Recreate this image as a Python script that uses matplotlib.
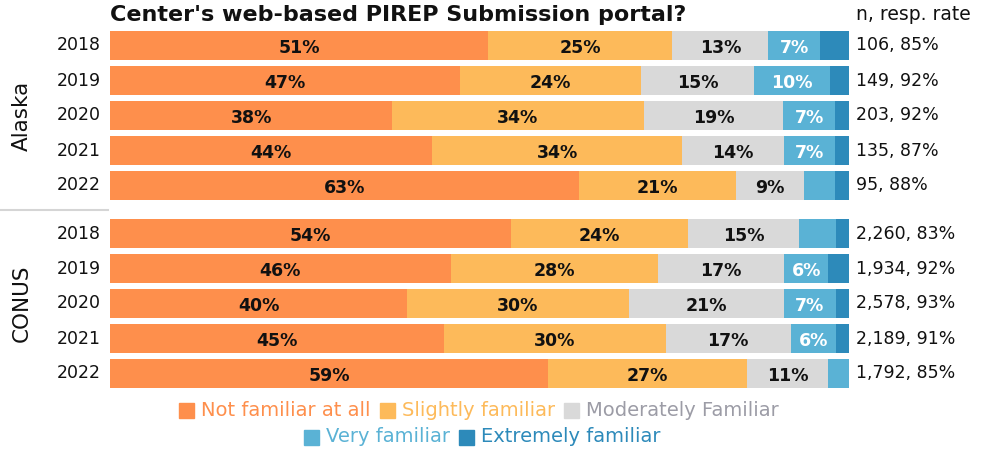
import numpy as np
import matplotlib
matplotlib.use("Agg")
import matplotlib.pyplot as plt

plt.rcParams['font.family'] = ['DejaVu Sans']

title = "Center's web-based PIREP Submission portal?"
groups = ["Alaska", "CONUS"]
years = ["2018", "2019", "2020", "2021", "2022"]
categories = ["Not familiar at all", "Slightly familiar", "Moderately Familiar",
              "Very familiar", "Extremely familiar"]
colors = ["#FE8F4C", "#FDBA5A", "#D9D9D9", "#5AB2D5", "#2D8ABA"]
legend_text_colors = ["#FE8F4C", "#FDBA5A", "#9C9CA6", "#5AB2D5", "#2D8ABA"]

# percent per row, columns follow categories
alaska = np.array([
    [51.2, 24.9, 13.0, 7.0, 3.9],
    [47.4, 24.4, 15.4, 10.2, 2.6],
    [38.2, 34.0, 18.9, 7.0, 1.9],
    [43.6, 33.8, 13.8, 6.9, 1.9],
    [63.4, 21.3, 9.2, 4.2, 1.9],
])
conus = np.array([
    [54.2, 24.0, 15.0, 5.0, 1.8],
    [46.1, 28.0, 17.1, 6.0, 2.8],
    [40.2, 30.0, 21.0, 7.0, 1.8],
    [45.2, 30.0, 16.9, 6.1, 1.8],
    [59.3, 26.9, 11.0, 2.8, 0.0],
])
alaska_n = ["106, 85%", "149, 92%", "203, 92%", "135, 87%", "95, 88%"]
conus_n = ["2,260, 83%", "1,934, 92%", "2,578, 93%", "2,189, 91%", "1,792, 85%"]

W, H = 981, 449
fig = plt.figure(figsize=(W / 100, H / 100), dpi=100)

# pixel layout of the bar block
x0, x1 = 110, 849
row_px = 35
gap = 13 / row_px
top_px = 45.5 - row_px / 2
ypos = np.concatenate([np.arange(5), np.arange(5) + 5 + gap])
ylim_bottom = ypos[-1] + 0.5
bot_px = top_px + (ylim_bottom + 0.5) * row_px

ax = fig.add_axes([x0 / W, 1 - bot_px / H, (x1 - x0) / W, (bot_px - top_px) / H])
ax.set_xlim(0, 100)
ax.set_ylim(ylim_bottom, -0.5)
ax.axis("off")

data = np.vstack([alaska, conus])
n_labels = alaska_n + conus_n
left = np.zeros(len(data))
for j, cat in enumerate(categories):
    vals = data[:, j]
    ax.barh(ypos, vals, left=left, height=29 / row_px, color=colors[j], linewidth=0)
    for y, l, v in zip(ypos, left, vals):
        if j < 4 and v >= 5.5:
            ax.text(l + v / 2, y + 0.06, f"{round(v)}%", ha="center", va="center",
                    fontsize=12.5, fontweight="bold",
                    color="white" if j == 3 else "#111111")
    left += vals

def fy(y):
    # data y -> figure fraction
    return 1 - (top_px + (y + 0.5) * row_px) / H

for i, y in enumerate(ypos):
    fig.text(101 / W, fy(y), years[i % 5], ha="right", va="center",
             fontsize=12.5, color="#111111")
    fig.text(856 / W, fy(y), n_labels[i], ha="left", va="center",
             fontsize=12.5, color="#111111")

fig.text(22 / W, fy(ypos[:5].mean()), groups[0], rotation=90, ha="center",
         va="center", fontsize=15.5, color="#111111")
fig.text(22 / W, fy(ypos[5:].mean()), groups[1], rotation=90, ha="center",
         va="center", fontsize=15.5, color="#111111")

# divider between the two groups
fig.add_artist(plt.Line2D([0, 108 / W], [1 - 210 / H, 1 - 210 / H],
                          color="#D5D5D5", linewidth=1.5))

fig.text(x0 / W, 1 - 21 / H, title, ha="left", va="baseline",
         fontsize=16, fontweight="bold", color="#111111")
fig.text(856 / W, 1 - 20 / H, "n, resp. rate", ha="left", va="baseline",
         fontsize=13.5, color="#111111")

# legend, two centred rows of coloured squares and coloured text
rows = [[0, 1, 2], [3, 4]]
row_y = [410, 437]
row_cx = [479, 482]
fs = 14
renderer = fig.canvas.get_renderer()
for r, idx in enumerate(rows):
    parts = []
    for k in idx:
        t = fig.text(0, 0, categories[k], fontsize=fs, color=legend_text_colors[k])
        w = t.get_window_extent(renderer).width
        parts.append((k, t, w))
    sq, pad, sep = 15, 7, 9
    total = sum(sq + pad + w for _, _, w in parts) + sep * (len(parts) - 1)
    x = row_cx[r] - total / 2
    y = 1 - row_y[r] / H
    for k, t, w in parts:
        fig.add_artist(plt.Rectangle((x / W, y - sq / 2 / H), sq / W, sq / H,
                                     color=colors[k], transform=fig.transFigure))
        t.set_position(((x + sq + pad) / W, y))
        t.set_va("center")
        x += sq + pad + w + sep

fig.savefig("out.png", dpi=100)
